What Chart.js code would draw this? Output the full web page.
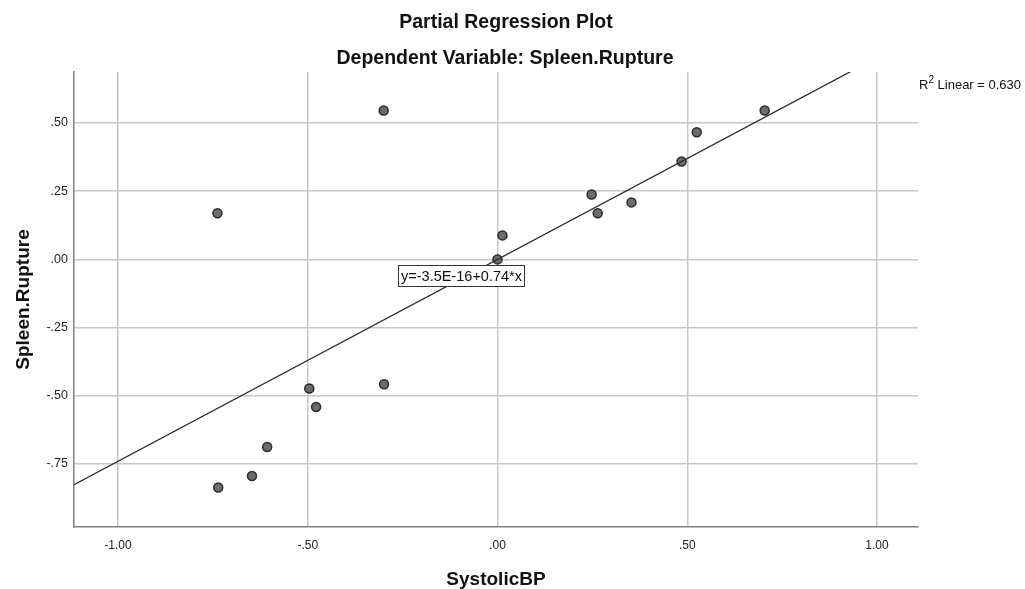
<!DOCTYPE html>
<html lang="en">
<head>
  <meta charset="UTF-8">
  <title>Partial Regression Plot</title>
  <script src="https://cdn.jsdelivr.net/npm/chart.js@4.4.1/dist/chart.umd.min.js"></script>
  <style>
    html, body { margin: 0; padding: 0; background: #fff; }
    #wrap { width: 1025px; height: 589px; }
  </style>
</head>
<body>
  <div id="wrap"><canvas id="plot" width="1025" height="589"></canvas></div>

  <script>
    // residuals
    const systolicBP = [-0.300, -0.738, 0.704, 0.525, 0.485, 0.248, 0.353, 0.264, 0.013, 0.000,
                        -0.496, -0.478, -0.299, -0.607, -0.647, -0.736];
    const spleenRupture = [0.546, 0.169, 0.546, 0.466, 0.359, 0.238, 0.209, 0.169, 0.088, 0.000,
                           -0.473, -0.541, -0.458, -0.688, -0.794, -0.836];

    const fitIntercept = -3.5e-16;
    const fitSlope = 0.74;
    const rSquared = '0.630';

    const xRange = [-1.116, 1.108];
    const yRange = [-0.981, 0.687];
    const xTicks = [-1, -0.5, 0, 0.5, 1];
    const yTicks = [-0.75, -0.5, -0.25, 0, 0.25, 0.5];

    const FONT = '"Liberation Sans", Arial, sans-serif';

    function fmt(v) {
      let s = Math.abs(v).toFixed(2);
      if (s.startsWith('0')) s = s.slice(1);
      return (v < 0 ? '-' : '') + s;
    }

    const points = systolicBP.map((x, i) => ({ x: x, y: spleenRupture[i] }));
    const fitLine = xRange.map(x => ({ x: x, y: fitIntercept + fitSlope * x }));

    // titles, axis titles, R2 note and the equation box
    const textPlugin = {
      id: 'texts',
      afterDraw(chart) {
        const c = chart.ctx;
        const sx = chart.scales.x, sy = chart.scales.y;
        const area = chart.chartArea;
        c.save();
        c.fillStyle = '#111';
        c.textAlign = 'center';
        c.textBaseline = 'alphabetic';
        c.font = 'bold 19.5px ' + FONT;
        c.fillText('Partial Regression Plot', 506, 28);
        c.fillText('Dependent Variable: Spleen.Rupture', 505, 64);

        c.font = 'bold 19px ' + FONT;
        c.fillText('SystolicBP', (area.left + area.right) / 2, 585);
        c.save();
        c.translate(29, (area.top + area.bottom) / 2);
        c.rotate(-Math.PI / 2);
        c.fillText('Spleen.Rupture', 0, 0);
        c.restore();

        // R2 note
        c.textAlign = 'left';
        c.font = '13px ' + FONT;
        let x0 = 919, base = 89;
        c.fillText('R', x0, base);
        x0 += c.measureText('R').width;
        c.font = '10px ' + FONT;
        c.fillText('2', x0, base - 6);
        x0 += c.measureText('2').width;
        c.font = '13px ' + FONT;
        c.fillText(' Linear = ' + rSquared, x0, base);

        // equation label
        const label = 'y=-3.5E-16+0.74*x';
        c.font = '14.5px ' + FONT;
        const w = Math.round(c.measureText(label).width + 5);
        const h = 21;
        const cx = sx.getPixelForValue(-0.095);
        const cy = sy.getPixelForValue(-0.059);
        const bx = Math.round(cx - w / 2), by = Math.round(cy - h / 2);
        c.fillStyle = '#fff';
        c.fillRect(bx, by, w, h);
        c.strokeStyle = '#333';
        c.lineWidth = 1;
        c.strokeRect(bx + 0.5, by + 0.5, w, h);
        c.fillStyle = '#111';
        c.textAlign = 'center';
        c.textBaseline = 'middle';
        c.fillText(label, bx + w / 2 + 0.5, by + h / 2 + 1);
        c.restore();
      }
    };

    new Chart(document.getElementById('plot'), {
      type: 'scatter',
      data: {
        datasets: [
          {
            type: 'line',
            data: fitLine,
            borderColor: '#2b2b2b',
            borderWidth: 1.3,
            pointRadius: 0,
            fill: false,
            order: 0
          },
          {
            data: points,
            pointRadius: 4.5,
            pointBackgroundColor: '#6c6c6c',
            pointBorderColor: '#2a2a2a',
            pointBorderWidth: 1.5,
            order: 1
          }
        ]
      },
      options: {
        responsive: false,
        animation: false,
        layout: { padding: { top: 72, right: 107, left: 0, bottom: 0 } },
        plugins: { legend: { display: false }, tooltip: { enabled: false }, title: { display: false } },
        scales: {
          x: {
            type: 'linear',
            min: xRange[0],
            max: xRange[1],
            afterBuildTicks: s => { s.ticks = xTicks.map(v => ({ value: v })); },
            afterFit: s => { s.height = 62; },
            grid: { color: '#c8c8c8', lineWidth: 1.5, drawTicks: false },
            border: { display: true, color: '#808080', width: 1.5 },
            ticks: { padding: 11, color: '#222', font: { family: FONT, size: 12 }, callback: v => fmt(v), maxRotation: 0 }
          },
          y: {
            type: 'linear',
            min: yRange[0],
            max: yRange[1],
            afterBuildTicks: s => { s.ticks = yTicks.map(v => ({ value: v })); },
            afterFit: s => { s.width = 74; },
            grid: { color: '#c8c8c8', lineWidth: 1.5, drawTicks: false },
            border: { display: true, color: '#808080', width: 1.5 },
            ticks: { padding: 6, color: '#222', font: { family: FONT, size: 12.5 }, callback: v => fmt(v) }
          }
        }
      },
      plugins: [textPlugin]
    });
  </script>
</body>
</html>
